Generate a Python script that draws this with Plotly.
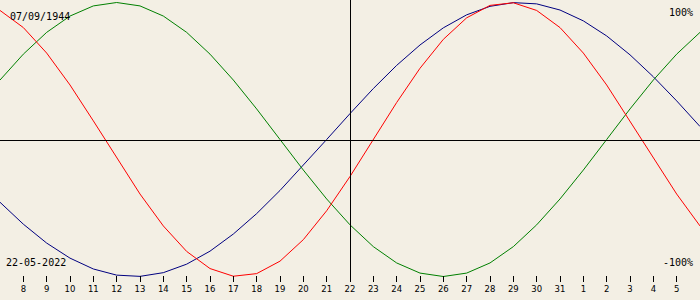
import plotly.graph_objects as go
import pandas as pd

# Dates shown (one point per day, 7 May 2022 .. 6 June 2022)
dates = [d.strftime("%Y-%m-%d") for d in pd.date_range("2022-05-07", "2022-06-06", freq="D")]

# Biorhythm values in percent
physical = [94.2, 81.7, 63.1, 39.8, 13.6, -13.6, -39.8, -63.1, -81.7, -94.2, -99.8, -97.9,
            -88.8, -73.1, -52.0, -27.0, 0.0, 27.0, 52.0, 73.1, 88.8, 97.9, 99.8, 94.2,
            81.7, 63.1, 39.8, 13.6, -13.6, -39.8, -63.1]
emotional = [43.4, 62.3, 78.2, 90.1, 97.5, 100.0, 97.5, 90.1, 78.2, 62.3, 43.4, 22.3,
             0.0, -22.3, -43.4, -62.3, -78.2, -90.1, -97.5, -100.0, -97.5, -90.1, -78.2,
             -62.3, -43.4, -22.3, 0.0, 22.3, 43.4, 62.3, 78.2]
intellectual = [-45.8, -61.8, -75.6, -86.6, -94.5, -99.0, -99.9, -97.2, -91.0, -81.5,
                -69.0, -54.1, -37.2, -18.9, 0.0, 18.9, 37.2, 54.1, 69.0, 81.5, 91.0,
                97.2, 99.9, 99.0, 94.5, 86.6, 75.6, 61.8, 45.8, 28.2, 9.5]

tick_dates = dates[1:-1]
tick_labels = ["8", "9", "10", "11", "12", "13", "14", "15", "16", "17", "18", "19", "20",
               "21", "22", "23", "24", "25", "26", "27", "28", "29", "30", "31",
               "1", "2", "3", "4", "5"]
current_date = "2022-05-22"
birth_label = "07/09/1944"
date_label = "22-05-2022"

BG = "#f3efe4"
W, H = 700, 300
axis_px = 282
zero_px = 139.5
amp_px = 137.0
y_top = zero_px / amp_px * 100
y_bot = -(axis_px - zero_px) / amp_px * 100

fig = go.Figure()
for vals, col in [(intellectual, "#000080"), (emotional, "#008000"), (physical, "#ff0000")]:
    fig.add_trace(go.Scatter(x=dates, y=vals, mode="lines",
                             line=dict(color=col, width=1), hoverinfo="skip"))

# zero line (nudged half a pixel so it renders crisp)
fig.add_shape(type="line", xref="paper", yref="y", x0=0, x1=1,
              ysizemode="pixel", yanchor=0, y0=-1, y1=-1,
              line=dict(color="black", width=1))
# current-day line
fig.add_shape(type="line", xref="x", yref="paper", xsizemode="pixel",
              xanchor=current_date, x0=0.5, x1=0.5,
              y0=(H - axis_px) / H, y1=1, line=dict(color="black", width=1))

mono = "DejaVu Sans Mono"
def ann(text, x, y, xanchor):
    fig.add_annotation(text=text, xref="paper", yref="paper", x=x / W, y=1 - y / H,
                       xanchor=xanchor, yanchor="middle", showarrow=False,
                       font=dict(family=mono, size=10, color="black"))

ann(birth_label, 8, 17, "left")
ann("100%", 695, 12.5, "right")
ann(date_label, 4, 262, "left")
ann("-100%", 695, 262.5, "right")

fig.update_layout(
    width=W, height=H, margin=dict(l=0, r=0, t=0, b=0),
    paper_bgcolor=BG, plot_bgcolor=BG, showlegend=False,
    xaxis=dict(type="date", range=[dates[0], dates[-1]], tickvals=tick_dates,
               ticktext=tick_labels, ticks="inside", ticklen=6, tickcolor="black",
               tickwidth=1, showgrid=False, zeroline=False, showline=False,
               tickfont=dict(family="DejaVu Sans", size=8.5, color="black")),
    yaxis=dict(range=[y_bot, y_top], domain=[(H - axis_px) / H, 1], showgrid=False,
               zeroline=False, showticklabels=False, showline=False),
)
fig.write_html("out.html")
